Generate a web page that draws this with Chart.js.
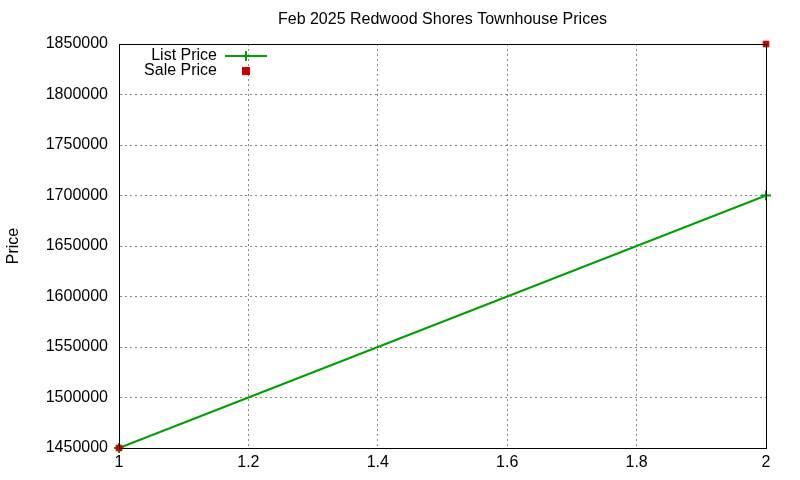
<!DOCTYPE html>
<html><head><meta charset="utf-8">
<script src="https://cdn.jsdelivr.net/npm/chart.js@4/dist/chart.umd.min.js"></script>
<style>html,body{margin:0;padding:0;background:#fff}#c{display:block}</style>
</head><body>
<div style="width:800px;height:480px"><canvas id="c" width="800" height="480"></canvas></div>
<script>
const chartTitle = "Feb 2025 Redwood Shores Townhouse Prices";
const listX = [1, 2];
const listPrice = [1450000, 1700000];
const saleX = [1, 2];
const salePrice = [1450000, 1850000];
const seriesNames = ["List Price", "Sale Price"];
const FONT = '"Liberation Sans", Arial, sans-serif';

const overlayPlugin = {
  id: 'gpOverlay',
  afterDraw(chart) {
    const ctx = chart.ctx, a = chart.chartArea;
    ctx.save();
    ctx.strokeStyle = '#000'; ctx.lineWidth = 1;
    ctx.strokeRect(a.left + 0.5, a.top + 0.5, a.right - a.left, a.bottom - a.top);
    ctx.font = '16px ' + FONT;
    ctx.fillStyle = '#000';
    ctx.textAlign = 'center'; ctx.textBaseline = 'middle';
    ctx.fillText(chartTitle, (a.left + a.right) / 2, 20);
    ctx.textAlign = 'right';
    ctx.fillText(seriesNames[0], 217, 56);
    ctx.fillText(seriesNames[1], 217, 71);
    ctx.strokeStyle = '#00a000';
    ctx.lineWidth = 2;
    ctx.beginPath(); ctx.moveTo(225, 56); ctx.lineTo(267, 56); ctx.stroke();
    ctx.beginPath(); ctx.moveTo(246, 51); ctx.lineTo(246, 61); ctx.moveTo(241, 56); ctx.lineTo(251, 56); ctx.stroke();
    ctx.fillStyle = '#cc0000';
    ctx.fillRect(242, 67, 8, 8);
    ctx.restore();
  }
};

new Chart(document.getElementById('c'), {
  type: 'scatter',
  data: {
    datasets: [
      { label: seriesNames[0], data: listX.map((x, i) => ({x, y: listPrice[i]})), showLine: true,
        borderColor: '#00a000', backgroundColor: '#00a000', borderWidth: 2, clip: false,
        pointStyle: 'cross', pointRadius: 5, pointBorderWidth: 2, order: 2 },
      { label: seriesNames[1], data: saleX.map((x, i) => ({x, y: salePrice[i]})), showLine: false,
        borderColor: '#cc0000', backgroundColor: '#cc0000', clip: false,
        pointStyle: 'rect', pointRadius: 4, order: 1 }
    ]
  },
  options: {
    responsive: false, animation: false,
    layout: { padding: { left: 0, right: 34, top: 44, bottom: 0 } },
    plugins: { legend: { display: false }, tooltip: { enabled: false }, title: { display: false } },
    scales: {
      x: { type: 'linear', min: 1, max: 2,
        ticks: { stepSize: 0.2, color: '#000', font: { family: FONT, size: 16 },
          callback: v => Number(v.toFixed(1)).toString(), padding: 5 },
        grid: { color: '#888', drawTicks: false },
        border: { color: '#000', width: 1, dash: [2, 3] },
        afterFit(s) { s.height = 32; } },
      y: { min: 1450000, max: 1850000,
        ticks: { stepSize: 50000, color: '#000', font: { family: FONT, size: 16 },
          callback: v => v.toString(), padding: 11 },
        grid: { color: '#888', drawTicks: false },
        border: { color: '#000', width: 1, dash: [2, 3] },
        title: { display: true, text: 'Price', color: '#000', font: { family: FONT, size: 16 } },
        afterFit(s) { s.width = 119; } }
    }
  },
  plugins: [overlayPlugin]
});
</script>
</body></html>
